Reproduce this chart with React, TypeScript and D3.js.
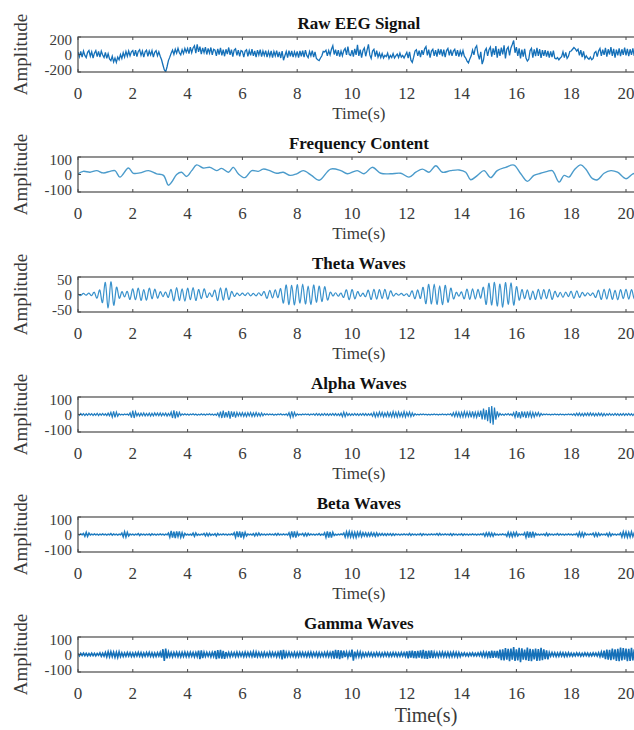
import React from "react";
import * as d3 from "d3";

// tick values shared by every panel
const timeTicks = [0, 2, 4, 6, 8, 10, 12, 14, 16, 18, 20];
const panelTitles = ["Raw EEG Signal", "Frequency Content", "Theta Waves", "Alpha Waves", "Beta Waves", "Gamma Waves"];
const amplitudeLimits = [200, 100, 50, 100, 100, 100];

// raw signal, 0.05 s per sample
const rawEeg = [
  30, -25, 35, -30, 40, -10, -35, 25, 45, -20, 30, -40, 15, 45, -25, 35, -30, 40, -5, -35,
  25, -45, 10, -50, -70, -20, -85, -40, -90, -30, -60, 0, -45, 20, -30, 35, -20, 40, -15, 30,
  45, -15, 50, -25, 35, 55, -10, 40, -30, 30, 50, -20, 40, -5, 45, -30, 25, 45, -15, 30,
  -20, -60, -120, -175, -198, -140, -70, -30, 15, 50, 0, 60, 15, 70, 20, -5, 55, 10, 70, 25,
  70, 10, 85, 20, 75, 100, 15, 115, 30, 90, 5, 75, 20, 85, 0, 70, 15, 80, -5, 60,
  50, -15, 65, 0, 75, -10, 55, -20, 60, 5, 80, -5, 55, -25, 50, 65, -10, 50, -20, 45,
  35, -30, 40, 55, -20, 45, -10, 60, -15, 40, -30, 50, -5, 55, -25, 40, -10, 45, -30, 35,
  -20, 40, -35, 35, -15, 45, -30, 30, -40, 40, -65, -15, 35, -35, 45, -20, 40, -30, 30, -20,
  35, -35, 40, -20, 45, -30, 50, -10, -35, 35, -15, 45, -30, 30, -45, -60, -70, -40, -15, 35,
  30, 50, -15, 45, -5, 60, 100, 0, 55, -15, 50, -25, 40, -15, 45, 70, -5, 90, 0, -10,
  50, -25, 65, -5, 110, -15, 55, -35, 45, 75, -20, 50, 115, -5, -45, 40, 60, -25, 45, -30,
  15, -35, 10, -40, -10, -25, 15, -45, -10, -35, 10, -40, -15, 5, -35, 15, -30, -10, -40, -5,
  25, -40, 30, -65, -90, -30, 40, 55, -15, 45, -30, 50, -5, 65, 90, -10, 55, -35, 40, 60,
  -15, 50, -25, 65, 0, 60, -20, 55, -30, 45, 70, -10, 55, -15, 40, 60, -15, 50, -25, 40,
  -10, 45, -20, -40, -75, -95, -50, -15, 50, -5, 75, 100, 0, -55, 30, -110, -60, 40, 70, -15,
  55, 85, -25, 70, -5, 95, -35, 65, -15, 80, 0, 105, -45, 60, 85, -10, 75, 115, 160, 20,
  85, -15, 70, -45, 55, -25, 65, -40, -75, -55, 45, 70, -35, 60, -20, 75, -15, 60, -40, 50,
  -15, 50, -25, 40, -35, 35, -30, 45, -40, -50, -35, -60, -40, -25, 30, -35, 25, -45, -20, 35,
  40, 60, 80, 65, 40, 60, -10, 50, -30, 35, -45, -15, -40, -55, -30, -60, -45, 20, 35, -25,
  40, 70, -15, 55, -5, 75, -25, 60, 0, 85, -15, 65, -35, 55, -10, 70, -20, 60, -5, 80,
  -10, 65, -20, 60, -5, 70, -15, 55, -25, 50, -5,
];

// frequency content, read as (time, amplitude) turning points
const freqTime = [
  0, 0.19, 0.44, 0.68, 0.92, 1.17, 1.35, 1.53, 1.84, 2.02, 2.26, 2.57, 2.87, 3.12, 3.3, 3.42, 3.6, 3.78, 3.96,
  4.15, 4.33, 4.57, 4.82, 5.06, 5.24, 5.49, 5.67, 5.85, 6.09, 6.34, 6.58, 6.76, 7.0, 7.25, 7.49, 7.74, 7.98,
  8.22, 8.52, 8.8, 9.22, 9.59, 9.83, 10.19, 10.44, 10.74, 11.05, 11.41, 11.78, 12.08, 12.33, 12.57, 12.81,
  13.06, 13.3, 13.6, 13.91, 14.15, 14.33, 14.58, 14.82, 15.06, 15.3, 15.61, 15.91, 16.16, 16.4, 16.64, 16.89,
  17.13, 17.31, 17.56, 17.74, 17.92, 18.11, 18.35, 18.53, 18.78, 18.96, 19.2, 19.45, 19.69, 20.0, 20.25, 20.5,
];
const freqAmp = [
  4, 18, 13, 22, 9, 18, 22, -15, 37, 7, 9, 22, 4, -5, -61, -43, 0, 13, -11,
  22, 55, 37, 41, 22, 35, 13, 41, 4, -18, 22, 18, 31, 22, 7, 13, -5, 4,
  22, -5, -33, 31, 22, 4, 22, 4, 41, 7, 4, 7, -15, 13, 31, 13,
  50, 13, 22, 26, 13, -30, -5, 22, -18, 22, 41, 54, 4, -39, -5, 7,
  18, 22, -43, -5, -15, 26, 55, 31, -24, -30, 7, 22, 13, -24, 4, 10,
];

// theta band, 0.1 s per sample
const theta = [
  2, -3, 3, -2, 4, -3, 6, -10, 12, -22,
  34, -38, 36, -30, 20, -10, 8, -7, 9, -14,
  16, -15, 18, -17, 14, -16, 18, -12, 15, -10,
  8, -6, 7, -8, 14, -18, 20, -17, 16, -19,
  18, -15, 20, -17, 14, -12, 16, -8, 5, -6,
  12, -17, 19, -16, 18, -14, 8, -5, 4, -3,
  4, -3, 5, -4, 3, -4, 5, -3, 8, -11,
  12, -10, 13, -9, 16, -24, 27, -29, 26, -30,
  28, -25, 30, -27, 24, -29, 27, -22, 24, -20,
  22, -15, 6, -4, 5, -5, 4, -8, 13, -15,
  14, -12, 8, -5, 4, -6, 12, -14, 15, -13,
  14, -12, 15, -13, 10, -4, 3, -2, 3, -3,
  2, -5, 10, -12, 13, -11, 20, -26, 29, -27,
  30, -28, 25, -29, 26, -22, 18, -12, 6, -5,
  7, -12, 15, -14, 16, -13, 15, -10, 20, -28,
  32, -30, 35, -33, 30, -36, 34, -28, 33, -30,
  22, -16, 14, -12, 13, -15, 10, -14, 15, -13,
  14, -12, 15, -14, 9, -7, 6, -8, 7, -6,
  9, -11, 10, -8, 6, -4, 5, -3, 4, -8,
  12, -14, 15, -13, 16, -14, 12, -15, 14, -12,
  15, -13, 14, -12, 13, -10,
];

// alpha band, 0.05 s per sample
const alpha = [
  3, -5, 6, -4, 5, -6, 4, -5, 6, -3, 5, -6, 4, -5, 7, -6, 5, -4, 6, -5,
  4, -6, 8, -7, 12, -15, 18, -16, 14, -10, 4, -3, 2, -3, 3, -2, 3, -4, 10, -18,
  22, -20, 16, -8, 7, -9, 8, -7, 9, -8, 6, -7, 8, -9, 7, -8, 9, -6, 8, -7,
  9, -8, 7, -6, 8, -9, 6, -7, 14, -20, 24, -22, 18, -16, 12, -6, 4, -3, 4, -3,
  3, -4, 3, -2, 4, -3, 3, -4, 2, -3, 4, -3, 3, -4, 3, -2, 4, -3, 3, -4,
  3, -5, 8, -12, 16, -20, 22, -18, 14, -16, 20, -24, 18, -14, 16, -18, 12, -8, 10, -9,
  11, -10, 9, -12, 10, -8, 12, -11, 9, -10, 12, -9, 8, -10, 9, -7, 5, -3, 4, -3,
  3, -2, 3, -4, 2, -3, 3, -2, 4, -3, 2, -3, 4, -6, 10, -16, 18, -14, 12, -8,
  4, -3, 2, -3, 3, -2, 3, -2, 3, -4, 3, -2, 4, -5, 6, -4, 5, -6, 4, -5,
  6, -5, 4, -6, 5, -4, 6, -5, 5, -6, 4, -6, 8, -12, 14, -12, 10, -6, 5, -6,
  4, -5, 6, -5, 4, -6, 5, -4, 6, -5, 5, -6, 4, -5, 6, -10, 12, -14, 10, -12,
  14, -10, 12, -13, 9, -11, 13, -12, 10, -14, 16, -13, 12, -15, 14, -12, 10, -13, 16, -14,
  12, -10, 14, -12, 9, -8, 5, -3, 2, -3, 3, -2, 3, -2, 2, -3, 2, -3, 2, -2,
  3, -2, 2, -3, 2, -2, 3, -2, 2, -3, 3, -2, 5, -8, 10, -12, 14, -11, 13, -15,
  12, -14, 16, -13, 15, -12, 14, -16, 18, -15, 13, -16, 15, -14, 22, -28, 34, -30, 26, -38,
  42, -50, 48, -58, 40, -30, 18, -10, 6, -4, 3, -5, 4, -3, 5, -4, 3, -6, 10, -16,
  20, -18, 14, -22, 18, -15, 16, -20, 17, -12, 14, -16, 12, -14, 10, -8, 12, -10, 6, -4,
  3, -2, 3, -2, 2, -3, 2, -2, 3, -2, 2, -3, 3, -2, 2, -3, 2, -2, 3, -2,
  3, -4, 5, -6, 7, -6, 8, -7, 6, -8, 7, -6, 8, -7, 9, -6, 7, -8, 6, -7,
  8, -6, 7, -8, 6, -7, 5, -4, 6, -5, 4, -5, 6, -4, 5, -6, 4, -5, 6, -5,
  5, -4, 6, -5, 4, -6, 5, -4, 6, -5, 4,
];

// beta band, 0.05 s per sample
const beta = [
  2, -2, 3, -2, 6, -10, 12, -11, 8, -3, 2, -2, 3, -2, 2, -3, 2, -2, 3, -2,
  2, -3, 2, -2, 5, -4, 3, -2, 2, -3, 2, -2, 8, -13, 15, -14, 12, -8, 3, -2,
  2, -3, 2, -2, 5, -6, 3, -2, 2, -3, 2, -2, 3, -5, 4, -2, 2, -3, 2, -2,
  3, -2, 2, -3, 2, -2, 8, -15, 20, -18, 16, -20, 17, -12, 18, -16, 10, -14, 6, -3,
  2, -3, 2, -4, 8, -10, 9, -5, 2, -3, 2, -2, 6, -8, 7, -8, 6, -5, 2, -3,
  5, -8, 6, -3, 2, -2, 3, -2, 2, -3, 2, -2, 3, -2, 10, -16, 18, -15, 17, -18,
  14, -16, 12, -8, 3, -2, 2, -3, 5, -8, 7, -6, 8, -5, 3, -2, 2, -3, 2, -2,
  3, -2, 2, -3, 5, -4, 6, -3, 2, -2, 3, -2, 2, -3, 10, -15, 18, -16, 17, -18,
  12, -6, 3, -2, 6, -8, 7, -8, 6, -4, 3, -2, 2, -3, 2, -2, 5, -4, 2, -3,
  10, -16, 18, -17, 15, -18, 12, -6, 2, -3, 2, -2, 3, -2, 8, -14, 15, -13, 16, -14,
  14, -15, 12, -16, 13, -10, 14, -12, 10, -8, 9, -10, 8, -9, 10, -7, 8, -10, 9, -8,
  5, -4, 6, -5, 4, -6, 5, -4, 5, -6, 4, -5, 3, -2, 2, -3, 2, -2, 3, -2,
  2, -3, 6, -5, 3, -2, 2, -3, 2, -2, 5, -6, 4, -2, 2, -3, 2, -2, 3, -2,
  2, -2, 5, -4, 6, -3, 2, -2, 3, -2, 2, -3, 5, -6, 4, -2, 2, -3, 2, -2,
  4, -5, 3, -2, 2, -3, 2, -2, 3, -2, 2, -3, 2, -2, 3, -2, 6, -10, 9, -8,
  10, -9, 8, -10, 6, -3, 2, -3, 2, -2, 3, -2, 2, -10, 12, -11, 10, -12, 11, -9,
  12, -8, 3, -2, 2, -3, 10, -16, 18, -17, 15, -18, 16, -12, 6, -3, 2, -3, 2, -2,
  3, -6, 8, -7, 4, -2, 2, -3, 2, -2, 5, -4, 3, -2, 2, -3, 2, -2, 3, -2,
  2, -3, 2, -2, 6, -10, 12, -11, 10, -12, 8, -3, 2, -2, 3, -2, 8, -10, 9, -10,
  8, -6, 3, -2, 2, -3, 6, -10, 9, -8, 4, -2, 2, -3, 2, -2, 8, -14, 15, -13,
  14, -15, 12, -14, 15, -12, 10, -13, 12, -8, 6,
];

// gamma band, 0.05 s per sample
const gamma = [
  6, -8, 7, -5, 8, -7, 6, -8, 5, -7, 8, -6, 7, -8, 6, -5, 9, -10, 8, -9,
  12, -14, 15, -13, 16, -12, 14, -15, 13, -16, 15, -12, 10, -11, 9, -10, 11, -9, 10, -11,
  9, -11, 10, -9, 12, -10, 11, -12, 9, -10, 11, -9, 12, -11, 10, -12, 9, -11, 10, -9,
  12, -18, 30, -36, 34, -22, 14, -12, 11, -13, 12, -10, 13, -12, 11, -13, 12, -11, 13, -12,
  11, -12, 13, -10, 12, -13, 11, -12, 22, -26, 24, -20, 13, -11, 12, -10, 11, -13, 12, -11,
  20, -26, 25, -22, 27, -24, 20, -25, 14, -12, 11, -13, 12, -10, 11, -12, 13, -11, 12, -10,
  11, -12, 13, -11, 12, -10, 13, -12, 15, -17, 14, -12, 11, -12, 10, -13, 12, -11, 10, -12,
  13, -11, 12, -10, 11, -13, 12, -11, 24, -28, 27, -22, 12, -11, 13, -12, 10, -11, 12, -13,
  11, -12, 13, -10, 12, -11, 10, -13, 12, -11, 13, -12, 11, -10, 12, -13, 11, -12, 10, -11,
  12, -11, 13, -12, 11, -13, 20, -24, 26, -22, 25, -27, 24, -20, 22, -15, 14, -16, 13, -15,
  28, -35, 16, -14, 15, -13, 14, -15, 10, -11, 9, -10, 11, -9, 10, -11, 9, -10, 11, -9,
  10, -11, 9, -10, 11, -9, 10, -11, 9, -10, 11, -9, 10, -11, 9, -10, 11, -9, 10, -11,
  18, -22, 20, -17, 22, -21, 19, -22, 20, -18, 24, -22, 26, -23, 21, -25, 22, -20, 23, -21,
  13, -12, 11, -13, 12, -11, 13, -12, 11, -12, 12, -13, 11, -12, 13, -11, 12, -13, 11, -12,
  8, -7, 9, -8, 7, -9, 8, -7, 9, -8, 7, -8, 9, -7, 12, -11, 13, -12, 11, -13,
  18, -20, 22, -19, 21, -18, 20, -22, 28, -32, 30, -34, 36, -30, 32, -38, 34, -30, 42, -36,
  30, -34, 38, -44, 35, -30, 28, -32, 40, -36, 33, -38, 30, -28, 34, -36, 31, -35, 38, -32,
  30, -26, 24, -28, 12, -10, 11, -9, 10, -11, 9, -10, 11, -9, 10, -11, 9, -10, 10, -9,
  8, -9, 7, -8, 9, -7, 8, -9, 7, -8, 9, -7, 8, -9, 7, -8, 9, -7, 8, -9,
  10, -12, 14, -18, 22, -26, 28, -30, 26, -32, 34, -28, 30, -36, 32, -38, 40, -34, 36, -30,
  34, -38, 32, -36, 38, -34, 30, -35, 36, -32, 34,
];

const W = 634;
const H = 730;
const LEFT = 78;
const PX_PER_SEC = 27.4;
const BOX_H = 35;
const FIRST_TOP = 37;
const GAP = 120;
const FONT = "'Liberation Serif', 'Times New Roman', serif";

const x = d3.scaleLinear().domain([0, 20.5]).range([LEFT, LEFT + 20.5 * PX_PER_SEC]);

const sampled = (vals: number[], step: number) => vals.map((v, i) => [i * step, v] as [number, number]);

const series: { pts: [number, number][]; curve: d3.CurveFactory; width: number; color: string }[] = [
  { pts: sampled(rawEeg, 0.05), curve: d3.curveLinear, width: 1.3, color: "#1570b8" },
  { pts: freqTime.map((t, i) => [t, freqAmp[i]] as [number, number]), curve: d3.curveCatmullRom, width: 1.4, color: "#4b9bcb" },
  { pts: sampled(theta, 0.1), curve: d3.curveNatural, width: 1.2, color: "#3a92cc" },
  { pts: sampled(alpha, 0.05), curve: d3.curveLinear, width: 1.2, color: "#1f7cc0" },
  { pts: sampled(beta, 0.05), curve: d3.curveLinear, width: 1.5, color: "#1f7cc0" },
  { pts: sampled(gamma, 0.05), curve: d3.curveLinear, width: 1.6, color: "#1570b8" },
];

function Panel({ i }: { i: number }) {
  const top = FIRST_TOP + GAP * i;
  const bottom = top + BOX_H;
  const lim = amplitudeLimits[i];
  const y = d3.scaleLinear().domain([-lim, lim]).range([bottom, top]);
  const s = series[i];
  const line = d3
    .line<[number, number]>()
    .x((d) => x(d[0]))
    .y((d) => y(d[1]))
    .curve(s.curve);
  const [x0, x1] = x.range();
  const yTicks = [lim, 0, -lim];
  const mid = (top + bottom) / 2;
  const last = i === panelTitles.length - 1;
  return (
    <g>
      <defs>
        <clipPath id={`clip${i}`}>
          <rect x={x0} y={top} width={x1 - x0} height={BOX_H} />
        </clipPath>
      </defs>
      <path d={line(s.pts) ?? ""} fill="none" stroke={s.color} strokeWidth={s.width} clipPath={`url(#clip${i})`} />
      <rect x={x0} y={top} width={x1 - x0} height={BOX_H} fill="none" stroke="#4a4a4a" strokeWidth={1.2} />
      {timeTicks.map((t) => (
        <g key={t}>
          <line x1={x(t)} x2={x(t)} y1={bottom} y2={bottom - 3} stroke="#4a4a4a" />
          <line x1={x(t)} x2={x(t)} y1={top} y2={top + 3} stroke="#4a4a4a" />
          <text x={x(t)} y={bottom + 27} textAnchor="middle" fontSize={17} fill="#3a3a3a" fontFamily={FONT}>
            {t}
          </text>
        </g>
      ))}
      {yTicks.map((v) => {
        const yy = Math.min(Math.max(y(v), top + 2.5), bottom - 2.5);
        return (
          <g key={v}>
            <line x1={x0} x2={x0 + 3} y1={y(v)} y2={y(v)} stroke="#4a4a4a" />
            <text x={x0 - 6} y={yy} dy="0.35em" textAnchor="end" fontSize={15} fill="#3a3a3a" fontFamily={FONT}>
              {v}
            </text>
          </g>
        );
      })}
      <text x={(x0 + x1) / 2} y={top - 8} textAnchor="middle" fontSize={17} fontWeight="bold" fill="#111" fontFamily={FONT}>
        {panelTitles[i]}
      </text>
      <text
        x={last ? 426 : (x0 + x1) / 2}
        y={bottom + (last ? 50 : 47)}
        textAnchor="middle"
        fontSize={last ? 20 : 17}
        fill="#3a3a3a"
        fontFamily={FONT}
      >
        Time(s)
      </text>
      <text
        transform={`translate(27,${mid}) rotate(-90)`}
        textAnchor="middle"
        fontSize={19}
        fill="#3a3a3a"
        fontFamily={FONT}
      >
        Amplitude
      </text>
    </g>
  );
}

export default function App() {
  return (
    <svg
      width={W}
      height={H}
      style={{ position: "absolute", left: 0, top: 0, background: "#fff", overflow: "hidden" }}
    >
      {panelTitles.map((_, i) => (
        <Panel key={i} i={i} />
      ))}
    </svg>
  );
}
